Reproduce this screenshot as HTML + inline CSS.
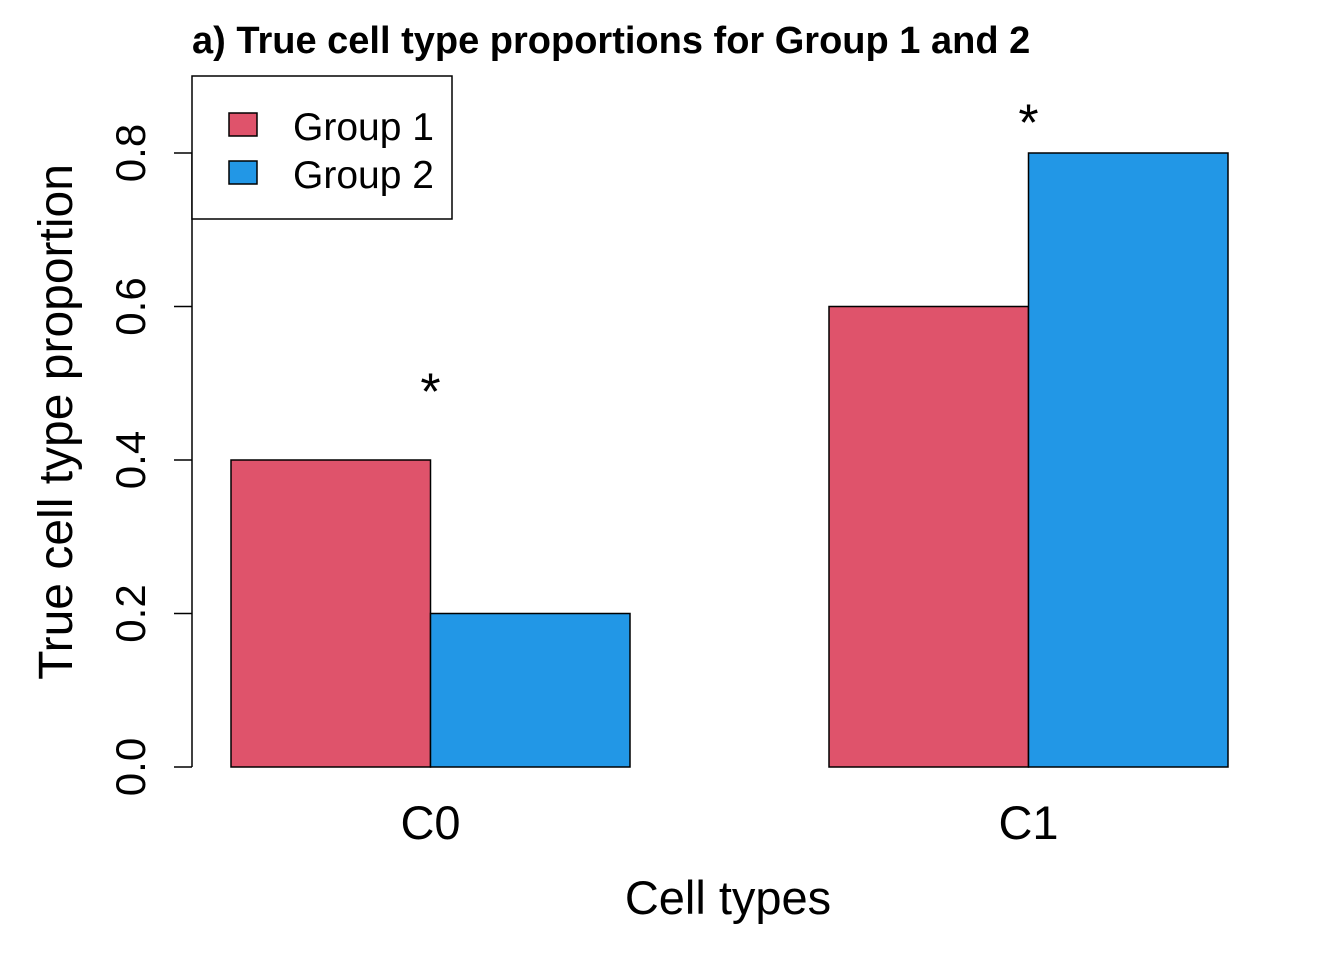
<!DOCTYPE html>
<html><head><meta charset="utf-8">
<style>
html,body{margin:0;padding:0;background:#fff;}
svg{display:block;font-family:"Liberation Sans",Arial,sans-serif;}
</style></head>
<body>
<svg id="chart" width="1344" height="960" viewBox="0 0 1344 960">
<text x="192" y="53" font-size="38" font-weight="bold">a) True cell type proportions for Group 1 and 2</text>
<g id="bars"></g>
<g id="yaxis"></g>
<g id="xaxis"></g>
<text transform="translate(72,422) rotate(-90)" text-anchor="middle" font-size="48">True cell type proportion</text>
<text x="728" y="914" text-anchor="middle" font-size="47">Cell types</text>
<g>
<rect x="192" y="76" width="260" height="143" fill="#fff" stroke="#000" stroke-width="1.5"/>
<rect x="229" y="113" width="28" height="23" fill="#DF536B" stroke="#000" stroke-width="1.5"/>
<text x="293" y="140" font-size="39">Group 1</text>
<rect x="229" y="161" width="28" height="23" fill="#2297E6" stroke="#000" stroke-width="1.5"/>
<text x="293" y="188" font-size="39">Group 2</text>
</g>
</svg>
<script>
const categories = ["C0", "C1"];
const group1 = [0.4, 0.6];
const group2 = [0.2, 0.8];
const starValues = [0.5, 0.85];
const yTicks = [0, 0.2, 0.4, 0.6, 0.8];
const yTickLabels = ["0.0", "0.2", "0.4", "0.6", "0.8"];

const NS = "http://www.w3.org/2000/svg";
const y0 = 767, yPerUnit = (767 - 153) / 0.8;
function yScale(v){ return y0 - v * yPerUnit; }
const groupStart = 231, barW = 199.5, groupStep = 598;
function xScale(i, s){ return groupStart + i * groupStep + s * barW; }
function mk(tag, attrs, parent){ const e = document.createElementNS(NS, tag); for (const k in attrs) e.setAttribute(k, attrs[k]); parent.appendChild(e); return e; }

const bars = document.getElementById("bars");
const series = [group1, group2];
const colors = ["#DF536B", "#2297E6"];
categories.forEach((c, i) => {
  series.forEach((ser, s) => {
    const r = mk("rect", {x: xScale(i, s), y: yScale(ser[i]), width: barW, height: yScale(0) - yScale(ser[i]), fill: colors[s], stroke: "#000", "stroke-width": 1.5}, bars);
    
    
  });
  const st = mk("text", {x: xScale(i, 1), y: yScale(starValues[i]) + 26, "text-anchor": "middle", "font-size": 52}, bars);
  st.textContent = "*";
  
  
  const xl = mk("text", {x: xScale(i, 1), y: 839, "text-anchor": "middle", "font-size": 47}, document.getElementById("xaxis"));
  xl.textContent = c;
  
  
});

const ya = document.getElementById("yaxis");
const axisLine = mk("line", {x1: 192, x2: 192, y1: yScale(yTicks[0]), y2: yScale(yTicks[yTicks.length - 1]), stroke: "#000", "stroke-width": 1.5}, ya);


yTicks.forEach((t, i) => {
  const tk = mk("line", {x1: 174, x2: 192, y1: yScale(t), y2: yScale(t), stroke: "#000", "stroke-width": 1.5}, ya);
  
  
  const lb = mk("text", {transform: "translate(145," + yScale(t) + ") rotate(-90)", "text-anchor": "middle", "font-size": 42}, ya);
  lb.textContent = yTickLabels[i];
  
  
});
</script>
</body></html>
